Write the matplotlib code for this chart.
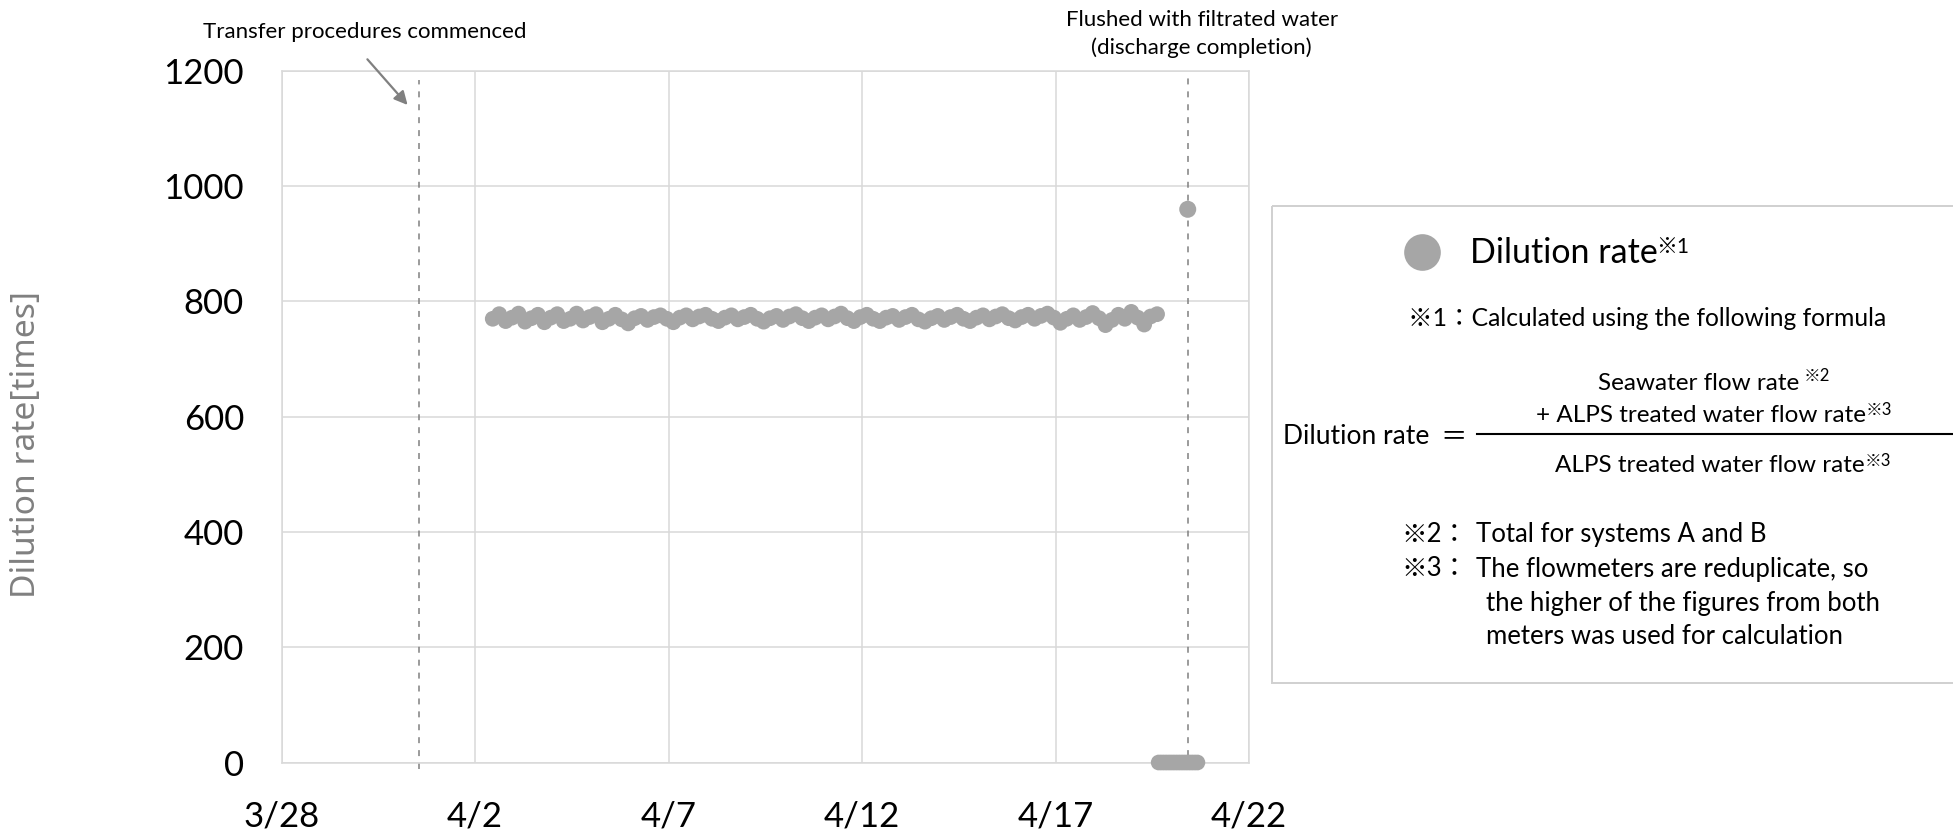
import matplotlib
matplotlib.use("Agg")
import matplotlib.pyplot as plt
from matplotlib.patches import Rectangle
import pandas as pd

plt.rcParams['font.family'] = ['Lato', 'Noto Sans CJK JP', 'DejaVu Sans']
plt.rcParams['lines.scale_dashes'] = False

# ---------------- data ----------------
SERIES_START = "2025-04-02 11:00"
SERIES_STEP_HOURS = 4
DILUTION = [
    770, 778, 766, 772, 779, 765, 771, 777, 764, 772,
    778, 766, 770, 779, 767, 773, 778, 764, 770, 777,
    769, 762, 771, 775, 768, 773, 776, 770, 764, 772,
    776, 769, 774, 777, 770, 766, 772, 776, 769, 773,
    777, 770, 765, 771, 775, 768, 774, 778, 771, 766,
    772, 776, 769, 774, 779, 771, 766, 773, 777, 770,
    766, 772, 775, 768, 773, 777, 769, 765, 771, 775,
    768, 773, 777, 770, 766, 772, 776, 769, 774, 778,
    771, 767, 773, 777, 770, 775, 779, 772, 763, 770,
    776, 768, 773, 780, 771, 759, 768, 777, 770, 782,
    772, 760, 774, 778,
]
FLUSH_TIMES = ["2025-04-19 16:00", "2025-04-19 18:00", "2025-04-19 20:00",
               "2025-04-19 22:00", "2025-04-20 00:00", "2025-04-20 02:00",
               "2025-04-20 04:00", "2025-04-20 06:00", "2025-04-20 08:00",
               "2025-04-20 10:00", "2025-04-20 12:00", "2025-04-20 14:00",
               "2025-04-20 16:00"]
FLUSH_VALUES = [0, 0, 0, 0, 0, 0, 0, 0, 0, 0, 0, 0, 0]
SPIKE_TIME = ["2025-04-20 10:00"]
SPIKE_VALUE = [960]

EVENT_TIMES = ["2025-03-31 13:00", "2025-04-20 10:00"]
EVENT_LABELS = ["Transfer procedures commenced",
                "Flushed with filtrated water\n(discharge completion)"]

X_TICKS = ["2025-03-28", "2025-04-02", "2025-04-07", "2025-04-12", "2025-04-17", "2025-04-22"]
X_TICK_LABELS = ["3/28", "4/2", "4/7", "4/12", "4/17", "4/22"]
Y_TICKS = [0, 200, 400, 600, 800, 1000, 1200]
Y_LABEL = "Dilution rate[times]"
SERIES_NAME = "Dilution rate"

# ---------------- figure ----------------
W, H = 1953, 833
fig = plt.figure(figsize=(W / 100, H / 100), dpi=100)

def px(x0, y0, x1, y1):
    return [x0 / W, 1 - y1 / H, (x1 - x0) / W, (y1 - y0) / H]

ax = fig.add_axes(px(281.5, 71, 1249, 762.5))
grid_c = '#d9d9d9'
dot_c = '#a6a6a6'
dash_c = '#808080'

times = pd.date_range(SERIES_START, periods=len(DILUTION), freq=f"{SERIES_STEP_HOURS}h")
ax.scatter(times, DILUTION, s=128, color=dot_c, edgecolors='none', zorder=3, clip_on=False)
ax.scatter(pd.to_datetime(FLUSH_TIMES), FLUSH_VALUES, s=128, color=dot_c,
           edgecolors='none', zorder=3, clip_on=False)
ax.scatter(pd.to_datetime(SPIKE_TIME), SPIKE_VALUE, s=150, color=dot_c,
           edgecolors='none', zorder=3, clip_on=False)

xt = pd.to_datetime(X_TICKS)
ax.set_xlim(xt[0], xt[-1])
ax.set_ylim(0, 1200)
ax.set_xticks(xt)
ax.set_xticklabels(X_TICK_LABELS)
ax.set_yticks(Y_TICKS)
ax.set_yticklabels([str(v) for v in Y_TICKS])
ax.tick_params(axis='both', length=0, labelsize=25, colors='black')
ax.tick_params(axis='y', pad=27)
ax.tick_params(axis='x', pad=27)
ax.grid(True, color=grid_c, linewidth=1.1, zorder=0)
ax.set_axisbelow(True)
for s in ax.spines.values():
    s.set_color(grid_c)
    s.set_linewidth(1.1)

ev = pd.to_datetime(EVENT_TIMES)
ax.plot([ev[0], ev[0]], [-12, 1185], color=dash_c, lw=1.1, dashes=(4.3, 5.0),
        clip_on=False, zorder=2)
ax.plot([ev[1], ev[1]], [-12, 1195], color=dash_c, lw=1.1, dashes=(4.3, 5.0),
        clip_on=False, zorder=2)

# ---------------- overlay in pixel coordinates ----------------
ov = fig.add_axes([0, 0, 1, 1])
ov.set_xlim(0, W)
ov.set_ylim(H, 0)
ov.axis('off')

ov.text(365, 38.3, EVENT_LABELS[0], fontsize=16, ha='center', va='baseline')
ov.annotate('', xy=(407.6, 105), xytext=(367.4, 59.3),
            arrowprops=dict(arrowstyle='-|>', color=dash_c, lw=1.6,
                            mutation_scale=20, shrinkA=0, shrinkB=0))
l1, l2 = EVENT_LABELS[1].split("\n")
ov.text(1201.7, 26, l1, fontsize=16, ha='center', va='baseline')
ov.text(1201.7, 54, l2, fontsize=16, ha='center', va='baseline')

ov.text(27, 444, Y_LABEL, rotation=90, ha='center', va='center', color='#808080',
        fontsize=24.2, family=['Noto Sans', 'DejaVu Sans'])


def sup(t, s, y, size=12, dx=0):
    return ov.annotate(s, xy=(1, y), xycoords=(t, 'data'), xytext=(dx, 0),
                       textcoords='offset points', fontsize=size,
                       ha='left', va='baseline')


# legend box
ov.add_patch(Rectangle((1272, 206), 720, 476.5, fill=False, edgecolor='#d0d0d0', lw=1.4))
ov.plot([1422], [251.7], 'o', ms=26.4, color=dot_c, mec='none')
t = ov.text(1470, 263.3, SERIES_NAME, fontsize=24.5, ha='left', va='baseline')
sup(t, "※1", 253, size=15, dx=-1)
ov.text(1408, 326, "※1：Calculated using the following formula", fontsize=17.7,
        ha='left', va='baseline')
t = ov.text(1598, 390, "Seawater flow rate", fontsize=17.5, ha='left', va='baseline')
sup(t, "※2", 381, size=12, dx=3)
t = ov.text(1536, 421.7, "+ ALPS treated water flow rate", fontsize=17.5, ha='left', va='baseline')
sup(t, "※3", 415, size=12, dx=0)
ov.text(1283, 444.3, "Dilution rate", fontsize=19, ha='left', va='baseline')
ov.text(1440, 444.3, "＝", fontsize=19, ha='left', va='baseline')
ov.plot([1476.5, 1960], [434, 434], color='black', lw=1.5)
t = ov.text(1555, 471.7, "ALPS treated water flow rate", fontsize=17.5, ha='left', va='baseline')
sup(t, "※3", 466, size=12, dx=0)
ov.text(1401, 542, "※2：", fontsize=18.5, ha='left', va='baseline')
ov.text(1476, 542, "Total for systems A and B", fontsize=18.5, ha='left', va='baseline')
ov.text(1401, 576.5, "※3：", fontsize=18.5, ha='left', va='baseline')
ov.text(1476, 576.5, "The flowmeters are reduplicate, so", fontsize=18.5, ha='left', va='baseline')
ov.text(1486, 611, "the higher of the figures from both", fontsize=18.5, ha='left', va='baseline')
ov.text(1486, 644, "meters was used for calculation", fontsize=18.5, ha='left', va='baseline')

fig.savefig("out.png", dpi=100)
